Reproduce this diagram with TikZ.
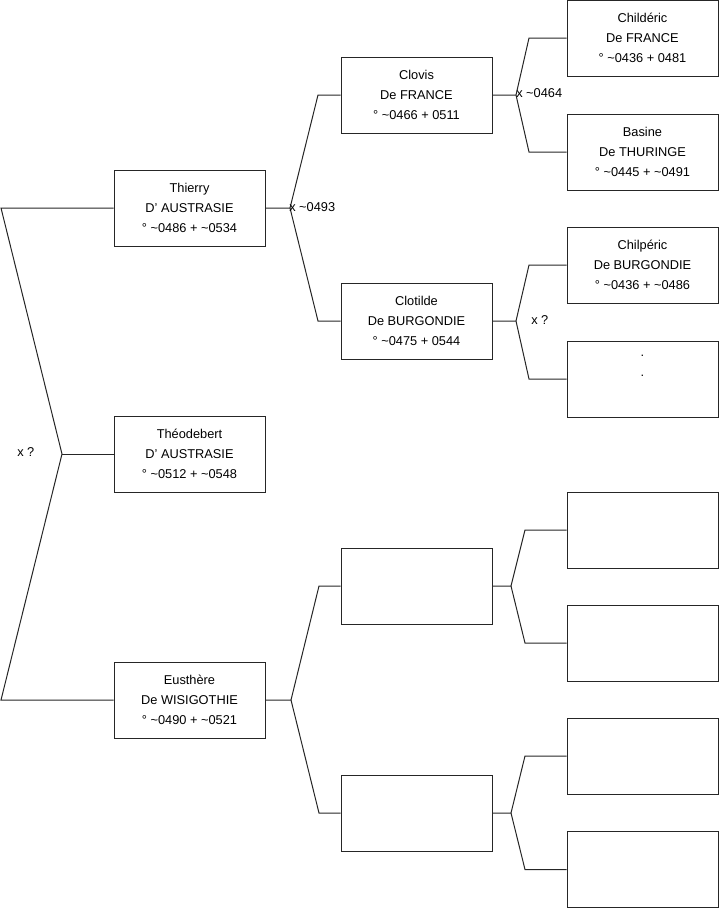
\documentclass[tikz,border=0pt]{standalone}
\usepackage{fontspec}
\setmainfont{Liberation Sans}
\begin{document}
\begin{tikzpicture}[x=0.75pt,y=-0.75pt,
  person/.style={draw=black!85, line width=0.75pt, minimum width=113.25pt, minimum height=57pt, inner sep=0pt, align=center, font=\fontsize{9.6}{15}\selectfont},
  link/.style={draw=black!85, line width=0.75pt},
  lbl/.style={font=\fontsize{9.6}{11}\selectfont, inner sep=0pt, anchor=west}]
\useasboundingbox (0,0) rectangle (719,908);
% column 1
\node[person] (thierry) at (189.5,208) {Thierry\\D' AUSTRASIE\\° \textasciitilde0486 + \textasciitilde0534};
\node[person] (theo) at (189.5,454) {Théodebert\\D' AUSTRASIE\\° \textasciitilde0512 + \textasciitilde0548};
\node[person] (eus) at (189.5,700) {Eusthère\\De WISIGOTHIE\\° \textasciitilde0490 + \textasciitilde0521};
% column 2
\node[person] (clovis) at (416.5,95) {Clovis\\De FRANCE\\° \textasciitilde0466 + 0511};
\node[person] (clotilde) at (416.5,321) {Clotilde\\De BURGONDIE\\° \textasciitilde0475 + 0544};
\node[person] (e1) at (416.5,586) {};
\node[person] (e2) at (416.5,813) {};
% column 3
\node[person] (childeric) at (642.5,38) {Childéric\\De FRANCE\\° \textasciitilde0436 + 0481};
\node[person] (basine) at (642.5,152) {Basine\\De THURINGE\\° \textasciitilde0445 + \textasciitilde0491};
\node[person] (chilperic) at (642.5,265) {Chilpéric\\De BURGONDIE\\° \textasciitilde0436 + \textasciitilde0486};
\node[person] (dots) at (642.5,379) {.\\.\\\strut};
\node[person] (f1) at (642.5,530) {};
\node[person] (f2) at (642.5,643) {};
\node[person] (f3) at (642.5,756) {};
\node[person] (f4) at (642.5,869.5) {};
% coordinates
\coordinate (L1) at (1,208);
\coordinate (L2) at (62,454);
\coordinate (L3) at (1,700);
\coordinate (A1) at (290,208);
\coordinate (A1a) at (318,95);
\coordinate (A1b) at (318,321);
\coordinate (A2) at (516,95);
\coordinate (A2a) at (529,38);
\coordinate (A2b) at (529,152);
\coordinate (A3) at (516,321);
\coordinate (A3a) at (529,265);
\coordinate (A3b) at (529,379);
\coordinate (A4) at (291,700);
\coordinate (A4a) at (319,586);
\coordinate (A4b) at (319,813);
\coordinate (A5) at (511,586);
\coordinate (A5a) at (525,530);
\coordinate (A5b) at (525,643);
\coordinate (A6) at (511,813);
\coordinate (A6a) at (525,756);
\coordinate (A6b) at (525,869.5);
% connectors
\draw[link] (thierry.west) -- (L1) -- (L2) -- (L3) -- (eus.west);
\draw[link] (L2) -- (theo.west);
\draw[link] (thierry.east) -- (A1) -- (A1a) -- (clovis.west);
\draw[link] (A1) -- (A1b) -- (clotilde.west);
\draw[link] (clovis.east) -- (A2) -- (A2a) -- (childeric.west);
\draw[link] (A2) -- (A2b) -- (basine.west);
\draw[link] (clotilde.east) -- (A3) -- (A3a) -- (chilperic.west);
\draw[link] (A3) -- (A3b) -- (dots.west);
\draw[link] (eus.east) -- (A4) -- (A4a) -- (e1.west);
\draw[link] (A4) -- (A4b) -- (e2.west);
\draw[link] (e1.east) -- (A5) -- (A5a) -- (f1.west);
\draw[link] (A5) -- (A5b) -- (f2.west);
\draw[link] (e2.east) -- (A6) -- (A6a) -- (f3.west);
\draw[link] (A6) -- (A6b) -- (f4.west);
% labels
\node[lbl] (m0) at (17,452) {x ?};
\node[lbl] (m1) at (289,207) {x \textasciitilde0493};
\node[lbl] (m2) at (516,93) {x \textasciitilde0464};
\node[lbl] (m3) at (531,320) {x ?};
\end{tikzpicture}
\end{document}
